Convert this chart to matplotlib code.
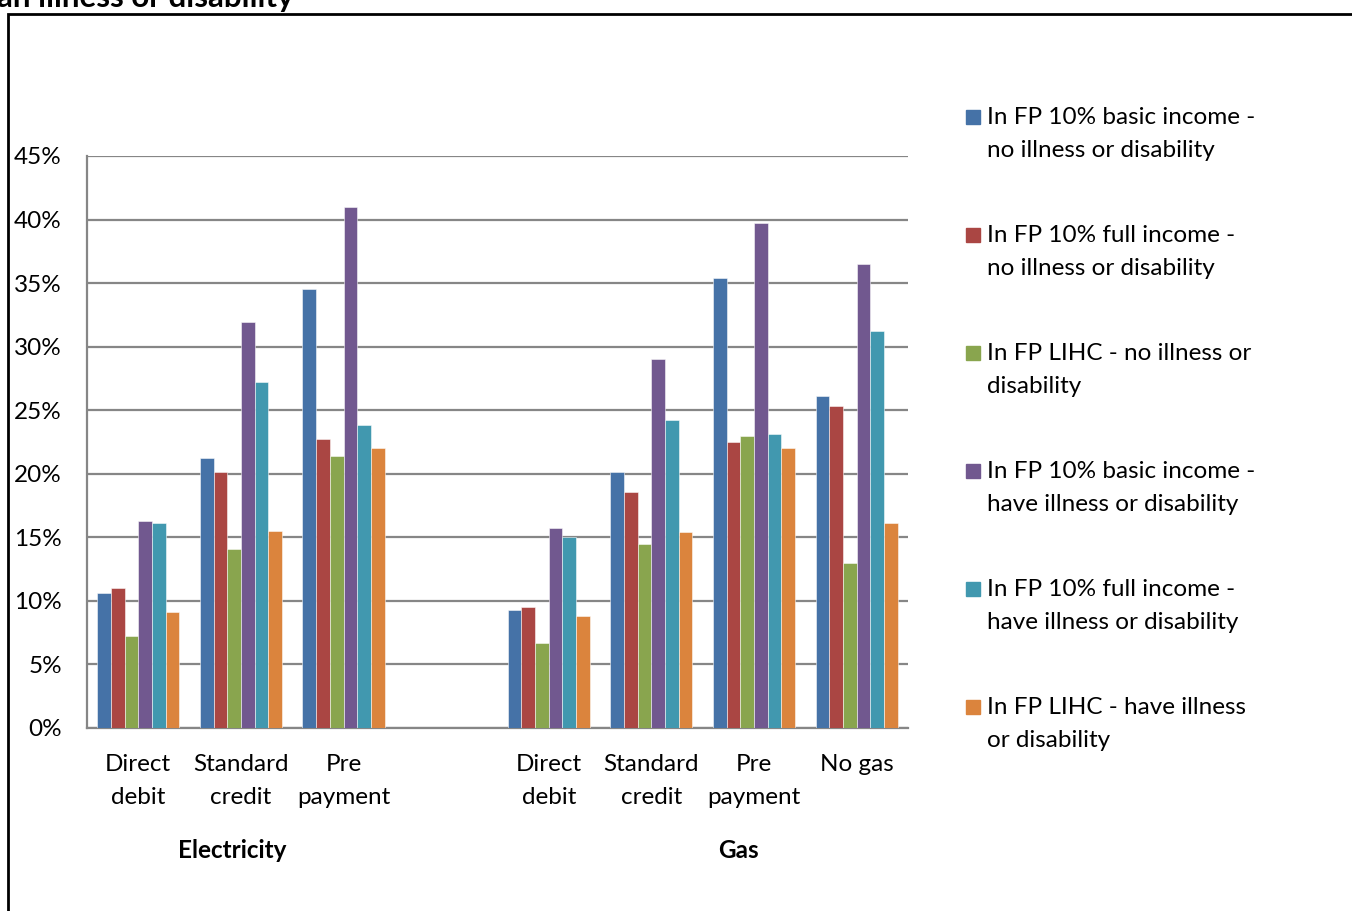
import numpy as np
import matplotlib.pyplot as plt
from matplotlib.patches import Rectangle

plt.rcParams['font.family'] = ['Lato', 'DejaVu Sans']

categories = ['Direct\ndebit', 'Standard\ncredit', 'Pre\npayment', '',
              'Direct\ndebit', 'Standard\ncredit', 'Pre\npayment', 'No gas']
series = ['In FP 10% basic income -\nno illness or disability',
          'In FP 10% full income -\nno illness or disability',
          'In FP LIHC - no illness or\ndisability',
          'In FP 10% basic income -\nhave illness or disability',
          'In FP 10% full income -\nhave illness or disability',
          'In FP LIHC - have illness\nor disability']
colors = ['#4572A7', '#AA4643', '#89A54E', '#71588F', '#4198AF', '#DB843D']

# values in %, one list per series (nan = empty slot between fuel groups)
basic_no = [10.6, 21.2, 34.5, np.nan, 9.3, 20.1, 35.4, 26.1]
full_no = [11.0, 20.1, 22.7, np.nan, 9.5, 18.6, 22.5, 25.3]
lihc_no = [7.2, 14.1, 21.4, np.nan, 6.7, 14.5, 23.0, 13.0]
basic_ill = [16.3, 31.9, 41.0, np.nan, 15.7, 29.0, 39.7, 36.5]
full_ill = [16.1, 27.2, 23.8, np.nan, 15.0, 24.2, 23.1, 31.2]
lihc_ill = [9.1, 15.5, 22.0, np.nan, 8.8, 15.4, 22.0, 16.1]
values = [basic_no, full_no, lihc_no, basic_ill, full_ill, lihc_ill]

groups = ['Electricity', 'Gas']
group_x = [0.92, 5.85]

fs = 17.5
fig = plt.figure(figsize=(13.52, 9.11), dpi=100)
ax = fig.add_axes([0.0643, 0.2009, 0.6073, 0.6279])

x = np.arange(len(categories))
w = 0.8 / len(series)
for i, (vals, c) in enumerate(zip(values, colors)):
    ax.bar(x - 0.4 + w * (i + 0.5), vals, w, color=c,
           edgecolor=(1, 1, 1, 0.6), linewidth=0.6, zorder=3)

ax.set_xlim(-0.5, len(categories) - 0.5)
ax.set_ylim(0, 45)
ax.set_yticks(np.arange(0, 46, 5))
ax.set_yticklabels([f'{v}%' for v in range(0, 46, 5)], fontsize=fs)
ax.yaxis.grid(True, color='#868686', lw=1.6, zorder=0)
ax.set_xticks(x)
ax.set_xticklabels(categories, fontsize=fs, linespacing=1.7)
ax.tick_params(axis='x', length=0, pad=19)
ax.tick_params(axis='y', length=0, pad=18)
for s in ['top', 'right']:
    ax.spines[s].set_visible(False)
for s in ['left', 'bottom']:
    ax.spines[s].set_color('#868686')
    ax.spines[s].set_linewidth(1.6)

for g, gx in zip(groups, group_x):
    ax.text(gx, -0.215, g, transform=ax.get_xaxis_transform(), ha='center',
            va='center', fontsize=fs, fontweight='bold')

# legend drawn by hand so the marker sits on the first line
for i, (name, c) in enumerate(zip(series, colors)):
    ymid = 1 - (117 + 118 * i) / 911
    fig.patches.append(Rectangle((966 / 1352, ymid - 7 / 911), 14 / 1352, 14 / 911,
                                 transform=fig.transFigure, color=c))
    fig.text(987 / 1352, ymid + 10 / 911, name, fontsize=fs, va='top', ha='left',
             linespacing=1.7)

# outer chart frame and clipped title fragment
fig.patches.append(Rectangle((8 / 1352, -0.1), 1.2, 1 - 14 / 911 + 0.1,
                             transform=fig.transFigure, fill=False, lw=2,
                             edgecolor='black'))
fig.text(-0.002, 1 - 7 / 911, 'an illness or disability', fontsize=22.5,
         fontweight='bold', va='baseline', ha='left')

fig.savefig('out.png', dpi=100)
